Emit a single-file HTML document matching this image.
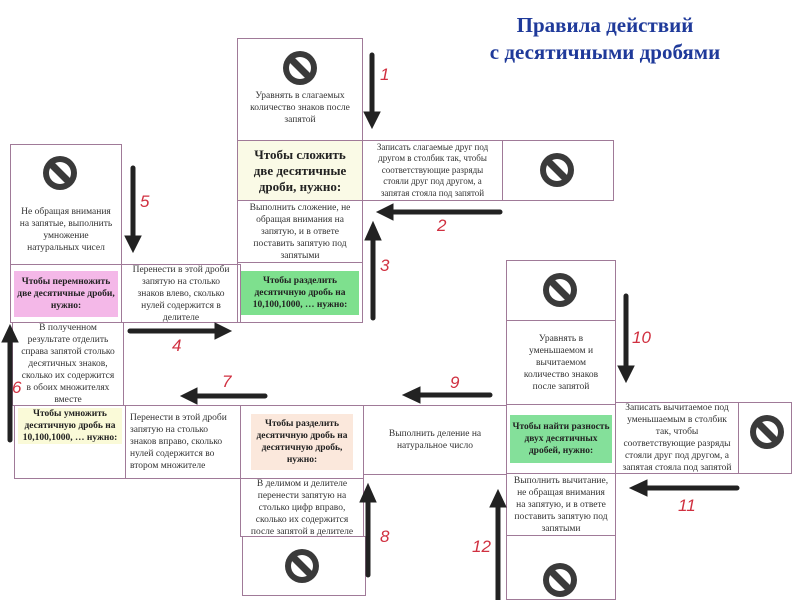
<!DOCTYPE html>
<html><head><meta charset="utf-8"><style>
body{margin:0;width:800px;height:600px;background:#fff;position:relative;overflow:hidden;font-family:"Liberation Serif","Noto Serif CJK SC",serif;}
.c{position:absolute;border:1px solid #a07a98;box-sizing:border-box;display:flex;align-items:center;justify-content:center;text-align:center;font-size:9.5px;line-height:12px;color:#333;padding:2px 7px;}
.b{font-weight:bold;color:#222;padding:2px 3px;}
.t{position:absolute;color:#1f3a9a;font-weight:bold;font-size:21px;text-align:center;width:320px;left:445px;top:12px;line-height:27px;}
.n{position:absolute;color:#d03040;font-size:17px;font-family:"Liberation Sans",sans-serif;font-style:italic;}
</style></head><body>
<div class="t">Правила действий<br>с десятичными дробями</div>

<div class="c" style="left:237px;top:38px;width:126px;height:103px;align-items:flex-end;padding-bottom:14px">Уравнять в слагаемых количество знаков после запятой</div>
<div class="c b" style="left:237px;top:140px;width:126px;height:61px;background:#fafae6;font-size:13px;line-height:16px;padding:2px 8px">Чтобы сложить две десятичные дроби, нужно:</div>
<div class="c" style="left:237px;top:200px;width:126px;height:63px">Выполнить сложение, не обращая внимания на запятую, и в ответе поставить запятую под запятыми</div>
<div class="c b" style="left:237px;top:262px;width:126px;height:61px"><span style="background:#7ee08e;padding:4px 2px">Чтобы разделить десятичную дробь на 10,100,1000, … нужно:</span></div>
<div class="c" style="left:362px;top:140px;width:141px;height:61px;font-size:9px;line-height:11.5px">Записать слагаемые друг под другом в столбик так, чтобы соответствующие разряды стояли друг под другом, а запятая стояла под запятой</div>
<div class="c" style="left:502px;top:140px;width:112px;height:61px"></div>

<div class="c" style="left:10px;top:144px;width:112px;height:121px;align-items:flex-end;padding-bottom:10px">Не обращая внимания на запятые, выполнить умножение натуральных чисел</div>
<div class="c b" style="left:10px;top:264px;width:112px;height:59px"><span style="background:#f4b8e8;padding:5px 2px">Чтобы перемножить две десятичные дроби, нужно:</span></div>
<div class="c" style="left:121px;top:264px;width:120px;height:59px">Перенести в этой дроби запятую на столько знаков влево, сколько нулей содержится в делителе</div>
<div class="c" style="left:12px;top:322px;width:112px;height:84px;border-top:none">В полученном результате отделить справа запятой столько десятичных знаков, сколько их содержится в обоих множителях вместе</div>
<div class="c b" style="left:14px;top:405px;width:112px;height:74px;align-items:flex-start"><span style="background:#fafad8">Чтобы умножить десятичную дробь на 10,100,1000, … нужно:</span></div>
<div class="c" style="left:125px;top:405px;width:116px;height:74px;text-align:left;justify-content:flex-start;padding:2px 4px">Перенести в этой дроби запятую на столько знаков вправо, сколько нулей содержится во втором множителе</div>
<div class="c b" style="left:240px;top:405px;width:124px;height:74px;padding:2px 10px"><span style="background:#fbe8dc;padding:4px 2px">Чтобы разделить десятичную дробь на десятичную дробь, нужно:</span></div>
<div class="c" style="left:240px;top:478px;width:124px;height:59px">В делимом и делителе перенести запятую на столько цифр вправо, сколько их содержится после запятой в делителе</div>
<div class="c" style="left:242px;top:536px;width:124px;height:60px"></div>
<div class="c" style="left:363px;top:405px;width:144px;height:70px;padding:2px 18px">Выполнить деление на натуральное число</div>

<div class="c" style="left:506px;top:260px;width:110px;height:61px"></div>
<div class="c" style="left:506px;top:320px;width:110px;height:85px;padding:2px 16px">Уравнять в уменьшаемом и вычитаемом количество знаков после запятой</div>
<div class="c b" style="left:506px;top:404px;width:110px;height:70px"><span style="background:#84e09a;padding:6px 2px">Чтобы найти разность двух десятичных дробей, нужно:</span></div>
<div class="c" style="left:506px;top:473px;width:110px;height:63px;padding:2px 5px">Выполнить вычитание, не обращая внимания на запятую, и в ответе поставить запятую под запятыми</div>
<div class="c" style="left:506px;top:535px;width:110px;height:65px"></div>
<div class="c" style="left:615px;top:402px;width:124px;height:72px;padding:2px 3px">Записать вычитаемое под уменьшаемым в столбик так, чтобы соответствующие разряды стояли друг под другом, а запятая стояла под запятой</div>
<div class="c" style="left:738px;top:402px;width:54px;height:72px"></div>

<svg width="800" height="600" style="position:absolute;left:0;top:0">
<defs><g id="no"><circle r="17" fill="#3a3a3a"/><circle r="11" fill="#fff"/><rect x="-14" y="-3.5" width="28" height="7" fill="#3a3a3a" transform="rotate(45)"/></g></defs>
<use href="#no" x="300" y="68"/><use href="#no" x="557" y="170"/><use href="#no" x="60" y="173"/>
<use href="#no" x="302" y="566"/><use href="#no" x="560" y="290"/><use href="#no" x="767" y="432"/><use href="#no" x="560" y="580"/>
<g stroke="#222" stroke-width="5" stroke-linecap="round" fill="#222">
<line x1="372" y1="55" x2="372" y2="115"/><polygon points="364,112 380,112 372,128" stroke-width="1"/>
<line x1="500" y1="212" x2="390" y2="212"/><polygon points="393,204 393,220 377,212" stroke-width="1"/>
<line x1="373" y1="318" x2="373" y2="238"/><polygon points="365,240 381,240 373,222" stroke-width="1"/>
<line x1="130" y1="331" x2="218" y2="331"/><polygon points="215,323 215,339 231,331" stroke-width="1"/>
<line x1="133" y1="168" x2="133" y2="238"/><polygon points="125,236 141,236 133,252" stroke-width="1"/>
<line x1="10" y1="440" x2="10" y2="340"/><polygon points="2,342 18,342 10,325" stroke-width="1"/>
<line x1="265" y1="396" x2="195" y2="396"/><polygon points="197,388 197,404 181,396" stroke-width="1"/>
<line x1="368" y1="575" x2="368" y2="500"/><polygon points="360,502 376,502 368,484" stroke-width="1"/>
<line x1="490" y1="395" x2="418" y2="395"/><polygon points="420,387 420,403 403,395" stroke-width="1"/>
<line x1="626" y1="296" x2="626" y2="368"/><polygon points="618,366 634,366 626,382" stroke-width="1"/>
<line x1="737" y1="488" x2="645" y2="488"/><polygon points="647,480 647,496 630,488" stroke-width="1"/>
<line x1="498" y1="600" x2="498" y2="505"/><polygon points="490,507 506,507 498,490" stroke-width="1"/>
</g></svg>
<div class="n" style="left:380px;top:65px">1</div>
<div class="n" style="left:437px;top:216px">2</div>
<div class="n" style="left:380px;top:256px">3</div>
<div class="n" style="left:172px;top:336px">4</div>
<div class="n" style="left:140px;top:192px">5</div>
<div class="n" style="left:12px;top:378px">6</div>
<div class="n" style="left:222px;top:372px">7</div>
<div class="n" style="left:380px;top:527px">8</div>
<div class="n" style="left:450px;top:373px">9</div>
<div class="n" style="left:632px;top:328px">10</div>
<div class="n" style="left:678px;top:496px">11</div>
<div class="n" style="left:472px;top:537px">12</div>
</body></html>
